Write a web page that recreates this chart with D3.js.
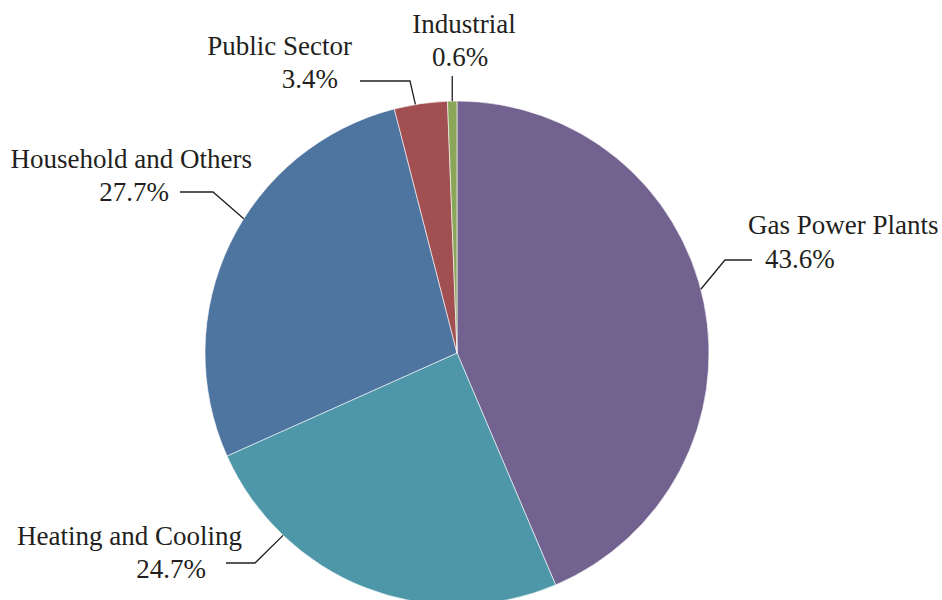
<!DOCTYPE html>
<meta charset="utf-8">
<style>
body { margin: 0; background: #fff; }
text { font-family: "Liberation Serif", "Times New Roman", Times, "DejaVu Serif", serif; font-size: 27px; fill: #231f20; }
</style>
<svg width="942" height="600"></svg>
<script src="https://d3js.org/d3.v7.min.js"></script>
<script>

// data
var categories = ["Gas Power Plants", "Heating and Cooling", "Household and Others", "Public Sector", "Industrial"];
var shares = [43.6, 24.7, 27.7, 3.4, 0.6];
var colors = ["#72628f", "#4e97a8", "#4e74a0", "#a24f52", "#8ba559"];

// label placement (layout only): name pos, pct pos, leader elbow, where on slice the line touches
var labelLayout = [
  { nx: 748, ny: 234, na: "start", px: 765, py: 268, pa: "start", hx: 752, ex: 725, ey: 260, f: 0.48 },
  { nx: 242, ny: 545, na: "end",   px: 206, py: 578, pa: "end",   hx: 226, ex: 255, ey: 563, f: 0.75 },
  { nx: 252, ny: 168, na: "end",   px: 169, py: 201, pa: "end",   hx: 180, ex: 213, ey: 192, f: 0.565 },
  { nx: 352, ny: 55,  na: "end",   px: 338, py: 88,  pa: "end",   hx: 360, ex: 410, ey: 81,  f: 0.4 },
  { nx: 464, ny: 33,  na: "middle",px: 460, py: 66,  pa: "middle",hx: null, ex: 451, ey: 76, f: 0.5 }
];

var svg = d3.select("svg"),
    cx = 457, cy = 353, radius = 252;

var pie = d3.pie().sort(null).value(function(d) { return d; });
var arcs = pie(shares);

var arc = d3.arc().innerRadius(0).outerRadius(radius);

var g = svg.append("g").attr("transform", "translate(" + cx + "," + cy + ")");

g.selectAll("path")
  .data(arcs)
  .enter().append("path")
    .attr("d", arc)
    .attr("fill", function(d, i) { return colors[i]; })
    .attr("stroke", "#fff")
    .attr("stroke-width", 0.6);

// leader lines + labels
arcs.forEach(function(d, i) {
  var L = labelLayout[i];
  var a = d.startAngle + (d.endAngle - d.startAngle) * L.f;
  var x = cx + radius * Math.sin(a), y = cy - radius * Math.cos(a);
  var pts = [];
  if (L.hx != null) pts.push([L.hx, L.ey]);
  pts.push([L.hx == null ? x : L.ex, L.ey]);
  pts.push([x, y]);
  svg.append("path")
    .attr("d", d3.line()(pts))
    .attr("fill", "none")
    .attr("stroke", "#231f20")
    .attr("stroke-width", 1.3);

  svg.append("text")
    .attr("x", L.nx).attr("y", L.ny)
    .attr("text-anchor", L.na)
    .text(categories[i]);
  svg.append("text")
    .attr("x", L.px).attr("y", L.py)
    .attr("text-anchor", L.pa)
    .text(d3.format(".1f")(shares[i]) + "%");
});

</script>
